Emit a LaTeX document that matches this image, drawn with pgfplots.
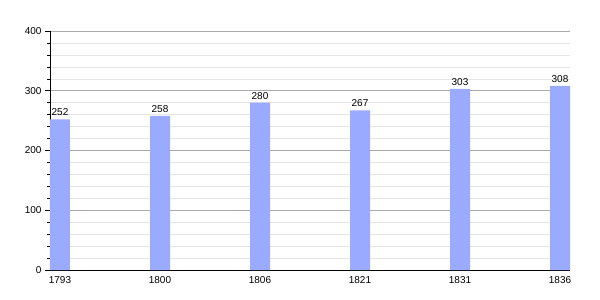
\documentclass[border=0pt]{standalone}
\usepackage{pgfplots}
\pgfplotsset{compat=1.18}
\usepackage{fontspec}
\setmainfont{Liberation Sans}
\definecolor{barblue}{RGB}{153,170,255}
\definecolor{majgrid}{RGB}{170,170,170}
\definecolor{mingrid}{RGB}{228,228,228}
\begin{document}
\begin{tikzpicture}
\useasboundingbox (-50pt,-30pt) rectangle (550pt,270pt);
\begin{axis}[
  scale only axis,
  width=520pt, height=239pt,
  xmin=-0.1, xmax=5.1,
  ymin=0, ymax=400,
  axis lines*=left,
  axis line style={black, line width=0.8pt},
  xtick=data,
  xticklabels={1793,1800,1806,1821,1831,1836},
  x tick style={draw=none},
  ytick={0,100,200,300,400},
  minor y tick num=4,
  ymajorgrids, yminorgrids,
  major grid style={majgrid, line width=0.6pt},
  minor grid style={mingrid, line width=0.6pt},
  y tick style={black, line width=0.6pt},
  tick align=outside,
  major tick length=5pt,
  minor tick length=3pt,
  tick label style={font=\fontsize{10}{12}\selectfont},
  /pgf/number format/assume math mode=true,
  xticklabel style={yshift=2pt},
  every node near coord/.append style={font=\fontsize{10}{12}\selectfont, black},
  nodes near coords,
  enlargelimits=false,
  clip=false,
]
\addplot[ybar, bar width=20pt, fill=barblue, draw=none, bar shift=0pt] coordinates {
  (0,252) (1,258) (2,280) (3,267) (4,303) (5,308)
};
\end{axis}
\end{tikzpicture}
\end{document}
